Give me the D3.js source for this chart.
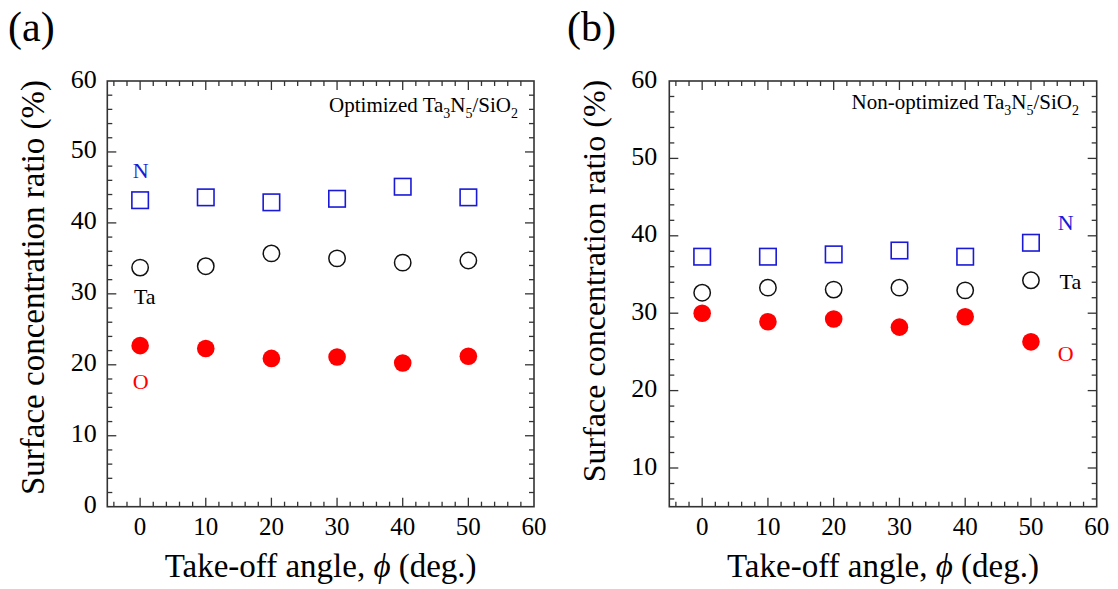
<!DOCTYPE html>
<html>
<head>
<meta charset="utf-8">
<script src="https://cdn.jsdelivr.net/npm/d3@7"></script>
<style>
  html, body { margin: 0; padding: 0; background: #fff; }
  svg { display: block; }
  text { font-family: "Liberation Serif", "Times New Roman", serif; }
</style>
</head>
<body>
<svg id="chart" width="1118" height="589"></svg>
<script>
// ---- data ----
const angles = [0, 10, 20, 30, 40, 50];
const xTickLabels = [0, 10, 20, 30, 40, 50, 60];
const yTickLabelsA = [0, 10, 20, 30, 40, 50, 60];
const yTickLabelsB = [10, 20, 30, 40, 50, 60];

// Panel (a): Optimized Ta3N5/SiO2
const aN  = [43.2, 43.6, 42.9, 43.4, 45.1, 43.6];
const aTa = [33.7, 33.9, 35.7, 35.0, 34.4, 34.7];
const aO  = [22.7, 22.3, 20.9, 21.1, 20.25, 21.2];

// Panel (b): Non-optimized Ta3N5/SiO2
const bN  = [37.3, 37.3, 37.6, 38.1, 37.3, 39.1];
const bTa = [32.65, 33.3, 33.05, 33.3, 32.95, 34.25];
const bO  = [30.0, 28.9, 29.25, 28.2, 29.55, 26.3];

// element labels (data coordinates)
const aLabels = [{t: "N", x: 0.1, y: 47.45, c: "#1a1ad6"}, {t: "Ta", x: 0.7, y: 29.6, c: "#000"}, {t: "O", x: 0.1, y: 17.7, c: "#ff0000"}];
const bLabels = [{t: "N", x: 55.3, y: 41.75, c: "#1a1ad6"}, {t: "Ta", x: 56.0, y: 34.07, c: "#000"}, {t: "O", x: 55.3, y: 24.8, c: "#ff0000"}];

const svg = d3.select("#chart");
const AX = "#333";

function drawPanel(cfg) {
  const x = d3.scaleLinear().domain([-5, 60]).range([cfg.left, cfg.right]);
  const y = d3.scaleLinear().domain(cfg.yDomain).range([cfg.bottom, cfg.top]);
  const g = svg.append("g");

  // frame
  g.append("rect").attr("x", cfg.left).attr("y", cfg.top)
    .attr("width", cfg.right - cfg.left).attr("height", cfg.bottom - cfg.top)
    .attr("fill", "none").attr("stroke", AX).attr("stroke-width", 1.6);

  const xMinor = d3.range(-4, 60, 2).filter(v => v % 10 !== 0);
  const xMajor = [0, 10, 20, 30, 40, 50];
  const yMinor = d3.range(Math.ceil(cfg.yDomain[0] / 2) * 2, 60, 2).filter(v => v % 10 !== 0 && v > cfg.yDomain[0]);
  const yMajor = d3.range(10, 60, 10);

  const mk = (data, len, side) => {
    data.forEach(v => {
      if (side === "x") {
        g.append("line").attr("x1", x(v)).attr("x2", x(v)).attr("y1", cfg.bottom).attr("y2", cfg.bottom - len).attr("stroke", AX).attr("stroke-width", 1.3);
        g.append("line").attr("x1", x(v)).attr("x2", x(v)).attr("y1", cfg.top).attr("y2", cfg.top + len).attr("stroke", AX).attr("stroke-width", 1.3);
      } else {
        g.append("line").attr("y1", y(v)).attr("y2", y(v)).attr("x1", cfg.left).attr("x2", cfg.left + len).attr("stroke", AX).attr("stroke-width", 1.3);
        g.append("line").attr("y1", y(v)).attr("y2", y(v)).attr("x1", cfg.right).attr("x2", cfg.right - len).attr("stroke", AX).attr("stroke-width", 1.3);
      }
    });
  };
  mk(xMinor, 5, "x"); mk(xMajor, 9, "x");
  mk(yMinor, 5, "y"); mk(yMajor, 9, "y");

  // tick labels
  g.selectAll(".xt").data(xTickLabels).enter().append("text")
    .attr("x", d => x(d)).attr("y", cfg.bottom + 28)
    .attr("text-anchor", "middle").attr("font-size", 25).text(d => d);
  g.selectAll(".yt").data(cfg.yTicks).enter().append("text")
    .attr("x", cfg.left - cfg.ylGap).attr("y", d => y(d) + 6.5)
    .attr("text-anchor", "end").attr("font-size", 26).text(d => d);

  // axis titles
  const xt = g.append("text").attr("x", (cfg.left + cfg.right) / 2).attr("y", 577)
    .attr("text-anchor", "middle").attr("font-size", 33);
  xt.append("tspan").text("Take-off angle, ");
  xt.append("tspan").attr("font-style", "italic").text("\u03D5");
  xt.append("tspan").text(" (deg.)");

  g.append("text").attr("transform", `translate(${cfg.ytX},${cfg.ytY}) rotate(-90)`)
    .attr("text-anchor", "middle").attr("font-size", cfg.ytSize).text("Surface concentration ratio (%)");

  // panel letter
  g.append("text").attr("x", cfg.letterX).attr("y", 41).attr("font-size", 42).text(cfg.letter);

  // annotation
  const an = g.append("text").attr("x", cfg.annX).attr("y", cfg.annY).attr("text-anchor", "end").attr("font-size", 21);
  an.append("tspan").text(cfg.ann + " Ta");
  an.append("tspan").attr("font-size", 14).attr("dy", 6).text("3");
  an.append("tspan").attr("dy", -6).text("N");
  an.append("tspan").attr("font-size", 14).attr("dy", 6).text("5");
  an.append("tspan").attr("dy", -6).text("/SiO");
  an.append("tspan").attr("font-size", 14).attr("dy", 6).text("2");

  // markers
  const s = 16.5;
  g.selectAll(".sq").data(cfg.N).enter().append("rect")
    .attr("x", (d, i) => x(angles[i]) - s / 2).attr("y", d => y(d) - s / 2)
    .attr("width", s).attr("height", s)
    .attr("fill", "none").attr("stroke", "#1a1ad6").attr("stroke-width", 1.6);
  g.selectAll(".ta").data(cfg.Ta).enter().append("circle")
    .attr("cx", (d, i) => x(angles[i])).attr("cy", d => y(d)).attr("r", 8.2)
    .attr("fill", "none").attr("stroke", "#111").attr("stroke-width", 1.5);
  g.selectAll(".o").data(cfg.O).enter().append("circle")
    .attr("cx", (d, i) => x(angles[i])).attr("cy", d => y(d)).attr("r", 8.8)
    .attr("fill", "#ff0000");

  // element labels
  g.selectAll(".lb").data(cfg.labels).enter().append("text")
    .attr("x", d => x(d.x)).attr("y", d => y(d.y))
    .attr("dominant-baseline", "central").attr("text-anchor", "middle")
    .attr("font-size", 22).attr("fill", d => d.c).text(d => d.t);
}

drawPanel({left: 107.3, right: 534, top: 81, bottom: 506.7, yDomain: [0, 60], yTicks: yTickLabelsA,
  N: aN, Ta: aTa, O: aO, labels: aLabels, letter: "(a)", letterX: 8, ylGap: 10.5,
  ann: "Optimized", annX: 518, annY: 112, ytX: 44, ytY: 287.5, ytSize: 33});
drawPanel({left: 669.3, right: 1096.7, top: 81, bottom: 506.7, yDomain: [5, 60], yTicks: yTickLabelsB,
  N: bN, Ta: bTa, O: bO, labels: bLabels, letter: "(b)", letterX: 567, ylGap: 12,
  ann: "Non-optimized", annX: 1079, annY: 109, ytX: 605, ytY: 281, ytSize: 32});
</script>
</body>
</html>
